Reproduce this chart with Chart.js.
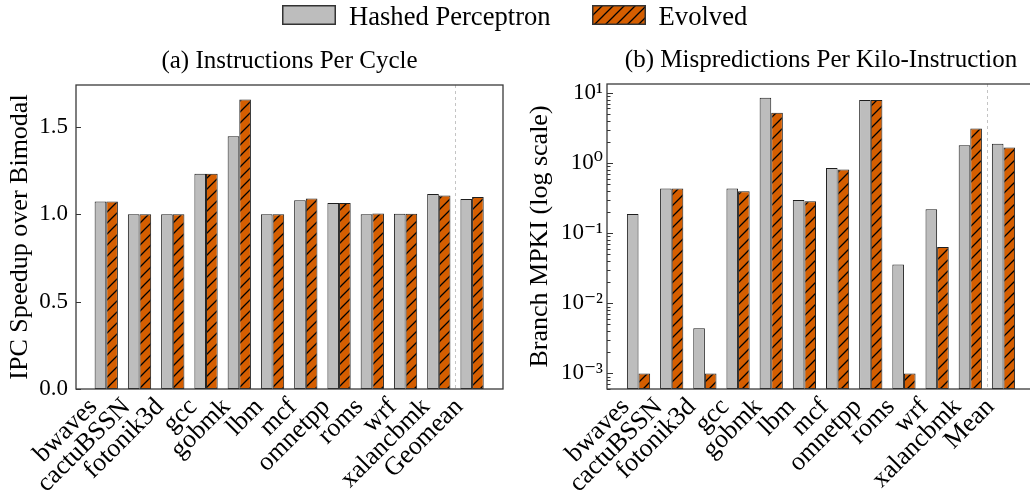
<!DOCTYPE html>
<html>
<head>
<meta charset="utf-8">
<script src="https://cdn.jsdelivr.net/npm/chart.js@4.4.1/dist/chart.umd.min.js"></script>
<style>
  html, body { margin: 0; padding: 0; background: #fff; width: 1030px; height: 495px; overflow: hidden; }
  #wrap { position: relative; width: 1030px; height: 495px; overflow: hidden; }
  #wrap canvas.chart { position: absolute; top: 0; }
  #cA { left: 0; }
  #cB { left: 515px; }
  #legend { position: absolute; left: 282px; top: 0; height: 30px; display: flex; align-items: center;
            font-family: 'Liberation Serif', 'DejaVu Serif', serif; font-size: 26.6px; color: #000; white-space: nowrap; }
  #legend .item { display: flex; align-items: center; margin-right: 41px; }
  #legend .sw { display: block; margin-right: 13px; }
  #legend .lbl { position: relative; top: 1px; }
</style>
</head>
<body>
<div id="wrap">
  <canvas id="cA" class="chart" width="510" height="495"></canvas>
  <canvas id="cB" class="chart" width="520" height="495"></canvas>
  <div id="legend"></div>
</div>
<script>
// ---------------- data ----------------
const seriesNames = ['Hashed Perceptron', 'Evolved'];

const categoriesA = ['bwaves', 'cactuBSSN', 'fotonik3d', 'gcc', 'gobmk', 'lbm', 'mcf', 'omnetpp', 'roms', 'wrf', 'xalancbmk', 'Geomean'];
const ipcHashed  = [1.073, 1.000, 1.000, 1.232, 1.446, 1.000, 1.080, 1.065, 1.000, 1.003, 1.116, 1.088];
const ipcEvolved = [1.073, 1.000, 1.000, 1.232, 1.657, 1.000, 1.090, 1.065, 1.004, 1.003, 1.107, 1.099];
const ipcTickValues = [0.0, 0.5, 1.0, 1.5];

const categoriesB = ['bwaves', 'cactuBSSN', 'fotonik3d', 'gcc', 'gobmk', 'lbm', 'mcf', 'omnetpp', 'roms', 'wrf', 'xalancbmk', 'Mean'];
const mpkiHashed  = [0.188, 0.435, 0.00441, 0.435, 8.5, 0.297, 0.85, 7.95, 0.0358, 0.219, 1.80, 1.88];
const mpkiEvolved = [0.001, 0.435, 0.001,   0.395, 5.2, 0.285, 0.81, 7.95, 0.001,  0.0633, 3.11, 1.67];
const mpkiTickValues = [1e-3, 1e-2, 1e-1, 1e0, 1e1];
const mpkiTickLabels = ['10\u207B\u00B3', '10\u207B\u00B2', '10\u207B\u00B9', '10\u2070', '10\u00B9'];

// ---------------- styling ----------------
const FONT = "'Liberation Serif', 'DejaVu Serif', serif";
Chart.defaults.font.family = FONT;
Chart.defaults.color = '#000';

const GRAY = '#bdbdbd';
const ORANGE = '#d55e00';
const EDGE = '#1e1e1e';

function makeHatch(color) {
  const s = 11;
  const c = document.createElement('canvas');
  c.width = s; c.height = s;
  const g = c.getContext('2d');
  g.fillStyle = color; g.fillRect(0, 0, s, s);
  g.strokeStyle = '#000'; g.lineWidth = 1.3;
  g.beginPath();
  g.moveTo(0, s); g.lineTo(s, 0);
  g.moveTo(-2, 2); g.lineTo(2, -2);
  g.moveTo(s - 2, s + 2); g.lineTo(s + 2, s - 2);
  g.stroke();
  return g.createPattern(c, 'repeat');
}
const hatch = makeHatch(ORANGE);

function toXY(values) { return values.map((v, i) => ({ x: i, y: v })); }

const framePlugin = {
  id: 'frame',
  beforeDatasetsDraw(chart, args, opts) {
    const { ctx, chartArea: a, scales } = chart;
    const xs = scales.x.getPixelForValue(opts.separator);
    ctx.save();
    ctx.strokeStyle = '#c4c4c4';
    ctx.lineWidth = 1;
    ctx.setLineDash([3, 3]);
    ctx.beginPath();
    ctx.moveTo(Math.round(xs) + 0.5, a.top);
    ctx.lineTo(Math.round(xs) + 0.5, a.bottom);
    ctx.stroke();
    ctx.restore();
  },
  afterDatasetsDraw(chart, args, opts) {
    const { ctx, chartArea: a, scales } = chart;
    const y = scales.y;
    ctx.save();
    ctx.strokeStyle = '#333';
    ctx.lineWidth = 1;
    for (const t of y.ticks) {
      const v = t.value;
      let len = 0;
      if (opts.log) {
        const e = Math.floor(Math.log10(v) + 1e-9);
        const m = v / Math.pow(10, e);
        if (Math.abs(m - Math.round(m)) > 1e-6) continue;
        len = Math.abs(m - 1) < 1e-6 ? 6 : 3.5;
      } else {
        len = 5;
      }
      const py = Math.round(y.getPixelForValue(v)) + 0.5;
      if (py < a.top || py > a.bottom + 1) continue;
      ctx.beginPath();
      ctx.moveTo(a.left, py);
      ctx.lineTo(a.left + len, py);
      ctx.stroke();
    }
    // frame
    ctx.strokeStyle = '#3a3a3a';
    ctx.lineWidth = 1.3;
    ctx.strokeRect(a.left, a.top, a.right - a.left, a.bottom - a.top);
    ctx.restore();
  }
};

function baseOptions(o) {
  return {
    responsive: false,
    animation: false,
    events: [],
    layout: { padding: { left: 0, right: o.padRight, top: 0, bottom: 0 } },
    datasets: { bar: { categoryPercentage: 0.7, barPercentage: 1.0, borderWidth: 1, borderColor: EDGE, borderSkipped: false } },
    plugins: {
      legend: { display: false },
      tooltip: { enabled: false },
      title: {
        display: true, text: o.title, fullSize: false,
        font: { size: 25, weight: 'normal', family: FONT }, color: '#000',
        padding: { top: o.titleTop, bottom: 9 }
      },
      frame: { separator: 10.5, log: o.log }
    },
    scales: {
      x: {
        type: 'linear', min: o.xmin, max: o.xmax, offset: false, bounds: 'data',
        grid: { display: false, drawTicks: false, offset: false },
        border: { display: false },
        afterBuildTicks: s => { s.ticks = o.categories.map((_, i) => ({ value: i })); },
        afterFit: s => { s.height = 106; },
        ticks: {
          autoSkip: false, minRotation: 45, maxRotation: 45, padding: 3, labelOffset: -13,
          font: { size: 26, family: FONT }, color: '#000',
          callback: v => o.categories[v]
        }
      },
      y: o.y
    }
  };
}

// ---------------- chart (a) ----------------
const chartA = new Chart(document.getElementById('cA'), {
  type: 'bar',
  data: {
    datasets: [
      { label: seriesNames[0], data: toXY(ipcHashed), backgroundColor: GRAY },
      { label: seriesNames[1], data: toXY(ipcEvolved), backgroundColor: hatch }
    ]
  },
  options: baseOptions({
    title: '(a) Instructions Per Cycle', titleTop: 46, padRight: 7, xmin: -0.91, xmax: 11.93,
    categories: categoriesA, log: false,
    y: {
      type: 'linear', min: 0, max: 1.74,
      grid: { display: false, drawTicks: false },
      border: { display: false },
      afterBuildTicks: s => { s.ticks = ipcTickValues.map(v => ({ value: v })); },
      afterFit: s => { s.width = 76; },
      ticks: { padding: 8, font: { size: 23, family: FONT }, color: '#000', callback: v => Number(v).toFixed(1) },
      title: { display: true, text: 'IPC Speedup over Bimodal', font: { size: 26, family: FONT }, color: '#000', padding: { top: 5, bottom: 0 } }
    }
  }),
  plugins: [framePlugin]
});

// ---------------- chart (b) ----------------
const chartB = new Chart(document.getElementById('cB'), {
  type: 'bar',
  data: {
    datasets: [
      { label: seriesNames[0], data: toXY(mpkiHashed), backgroundColor: GRAY },
      { label: seriesNames[1], data: toXY(mpkiEvolved), backgroundColor: hatch }
    ]
  },
  options: baseOptions({
    title: '(b) Mispredictions Per Kilo-Instruction', titleTop: 45, padRight: 0, xmin: -0.95, xmax: 11.95,
    categories: categoriesB, log: true,
    y: {
      type: 'logarithmic', min: 6.3e-4, max: 13.4,
      grid: { display: false, drawTicks: false },
      border: { display: false },
      afterFit: s => { s.width = 92; },
      ticks: {
        autoSkip: false, padding: 4, font: { size: 23, family: FONT }, color: '#000',
        callback: v => {
          const i = mpkiTickValues.findIndex(t => Math.abs(t - v) / t < 1e-6);
          return i >= 0 ? mpkiTickLabels[i] : '';
        }
      },
      title: { display: true, text: 'Branch MPKI (log scale)', font: { size: 26, family: FONT }, color: '#000', padding: { top: 10, bottom: 0 } }
    }
  }),
  plugins: [framePlugin]
});

// ---------------- HTML legend built from chart's legend items ----------------
(function buildLegend() {
  const box = document.getElementById('legend');
  const items = Chart.defaults.plugins.legend.labels.generateLabels(chartA);
  items.forEach(it => {
    const d = document.createElement('div');
    d.className = 'item';
    const sw = document.createElement('canvas');
    sw.className = 'sw'; sw.width = 54; sw.height = 20;
    const g = sw.getContext('2d');
    g.fillStyle = it.fillStyle; g.fillRect(0, 0, 54, 20);
    g.strokeStyle = '#333'; g.lineWidth = 1.5; g.strokeRect(0.75, 0.75, 52.5, 18.5);
    const t = document.createElement('span');
    t.className = 'lbl'; t.textContent = it.text;
    d.appendChild(sw); d.appendChild(t);
    box.appendChild(d);
  });
})();
</script>
</body>
</html>
